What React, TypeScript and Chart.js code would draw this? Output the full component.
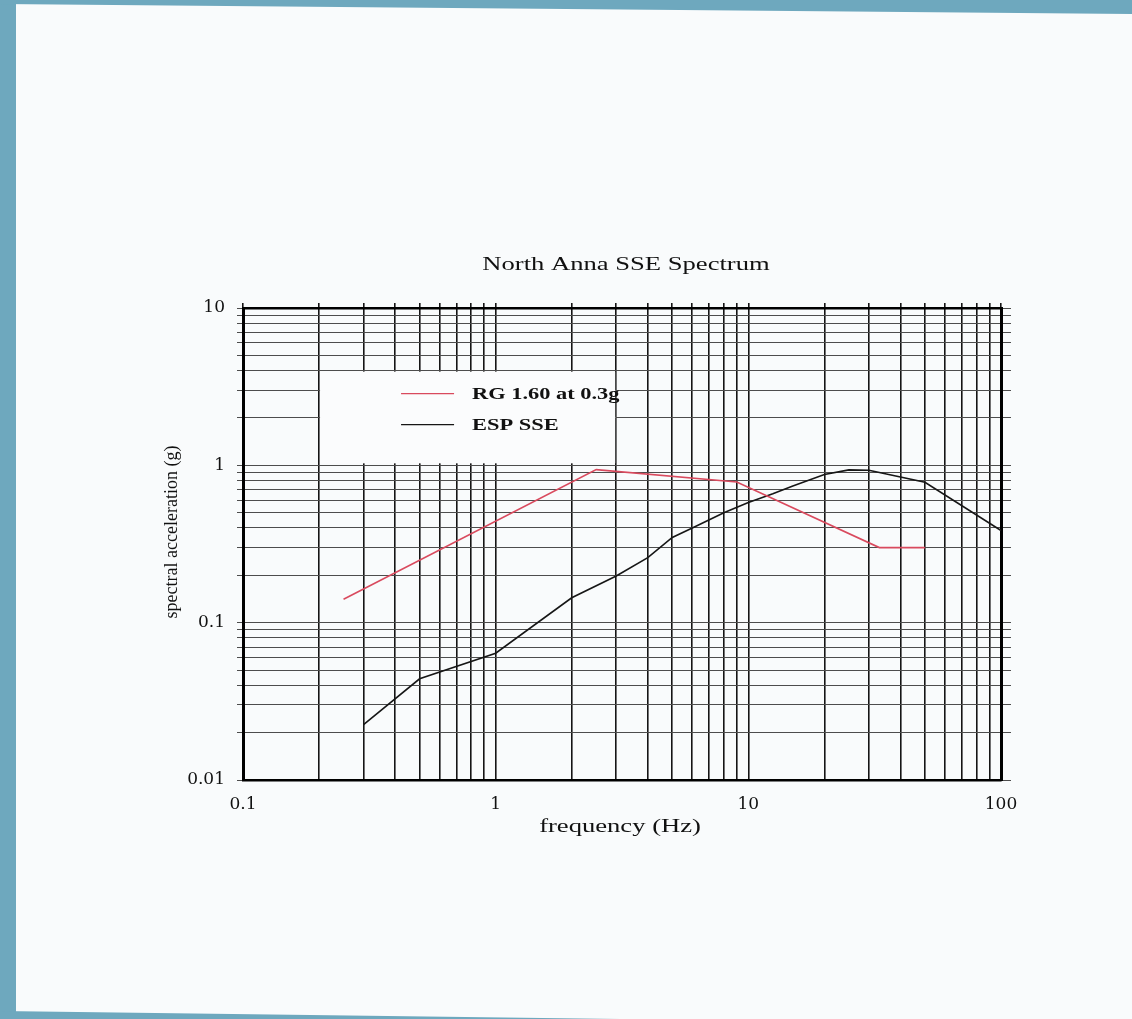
import React, { useEffect, useRef } from 'react';
import { Chart, registerables } from 'chart.js';

Chart.register(...registerables);

// ---------- data ----------
const TITLE = 'North Anna SSE Spectrum';
const X_TITLE = 'frequency (Hz)';
const Y_TITLE = 'spectral acceleration (g)';

const X_DECADES = [0.1, 1, 10, 100];
const X_TICK_LABELS = ['0.1', '1', '10', '100'];
const Y_DECADES = [0.01, 0.1, 1, 10];
const Y_TICK_LABELS = ['0.01', '0.1', '1', '10'];

const SERIES_NAMES = ['RG 1.60 at 0.3g', 'ESP SSE'];

// RG 1.60 spectrum anchored at 0.3 g
const RG_FREQ = [0.25, 2.5, 9, 33, 50];
const RG_ACCEL = [0.141, 0.939, 0.783, 0.3, 0.3];

// ESP SSE spectrum
const ESP_FREQ = [0.3, 0.5, 1, 2, 3, 4, 5, 6, 8, 10, 12.5, 15, 20, 25, 30, 50, 100];
const ESP_ACCEL = [0.0225, 0.044, 0.064, 0.144, 0.198, 0.259, 0.348, 0.4, 0.5, 0.58, 0.66, 0.74, 0.875, 0.935, 0.93, 0.78, 0.385];

// ---------- helpers ----------
function logGrid(decades: number[]): number[] {
  const out: number[] = [];
  for (let i = 0; i < decades.length - 1; i++) {
    for (let k = 1; k < 10; k++) out.push(Number((decades[i] * k).toPrecision(4)));
  }
  out.push(decades[decades.length - 1]);
  return out;
}

const labelFor = (decades: number[], labels: string[]) => (value: any) => {
  const v = Number(value);
  const i = decades.findIndex((d) => Math.abs(v - d) < d * 1e-6);
  return i >= 0 ? labels[i] : '';
};

const SERIF = '"Liberation Serif", "Times New Roman", serif';
const TICK_SERIF = '"DejaVu Serif", "Liberation Serif", serif';
const STRETCH = 1.4;

function drawStretched(
  ctx: CanvasRenderingContext2D,
  text: string,
  x: number,
  y: number,
  font: string,
  align: CanvasTextAlign,
  sx: number
) {
  ctx.save();
  ctx.font = font;
  ctx.textAlign = align;
  ctx.textBaseline = 'alphabetic';
  ctx.fillStyle = '#111';
  ctx.translate(x, y);
  ctx.scale(sx, 1);
  ctx.fillText(text, 0, 0);
  ctx.restore();
}

const decorPlugin = {
  id: 'decor',
  beforeDraw(chart: any) {
    const { ctx, width, height } = chart;
    ctx.save();
    ctx.fillStyle = '#f9fbfc';
    ctx.fillRect(0, 0, width, height);
    ctx.fillStyle = '#6ea8be';
    // left strip
    ctx.fillRect(0, 0, 16, height);
    // top strip (slightly skewed scan)
    ctx.beginPath();
    ctx.moveTo(0, 0);
    ctx.lineTo(width, 0);
    ctx.lineTo(width, 14);
    ctx.lineTo(0, 4);
    ctx.closePath();
    ctx.fill();
    // bottom strip
    ctx.beginPath();
    ctx.moveTo(0, height - 8);
    ctx.lineTo(620, height);
    ctx.lineTo(0, height);
    ctx.closePath();
    ctx.fill();
    ctx.restore();
  },
  beforeDatasetsDraw(chart: any) {
    const { ctx } = chart;
    const xs = chart.scales.x;
    const ys = chart.scales.y;
    const left = xs.getPixelForValue(0.2);
    const right = xs.getPixelForValue(3);
    const top = ys.getPixelForValue(4);
    const bottom = ys.getPixelForValue(1) - 2;
    ctx.save();
    ctx.fillStyle = '#fbfcfd';
    ctx.fillRect(left + 1, top + 1, right - left - 2, bottom - top - 1);
    // legend entries
    chart.data.datasets.forEach((ds: any, i: number) => {
      const y = top + 23 + i * 31;
      ctx.strokeStyle = ds.borderColor;
      ctx.lineWidth = 1.2;
      ctx.beginPath();
      ctx.moveTo(left + 82, y);
      ctx.lineTo(left + 135, y);
      ctx.stroke();
      drawStretched(ctx, ds.label, left + 153, y + 5, `bold 16px ${SERIF}`, 'left', STRETCH);
    });
    ctx.restore();
  },
  afterDraw(chart: any) {
    const { ctx } = chart;
    drawStretched(ctx, TITLE, 626, 270, `19px ${SERIF}`, 'center', STRETCH);
    drawStretched(ctx, X_TITLE, 620, 832, `19px ${SERIF}`, 'center', STRETCH);
    ctx.save();
    ctx.translate(177, 532);
    ctx.rotate(-Math.PI / 2);
    ctx.font = `18px ${SERIF}`;
    ctx.textAlign = 'center';
    ctx.textBaseline = 'alphabetic';
    ctx.fillStyle = '#111';
    ctx.fillText(Y_TITLE, 0, 0);
    ctx.restore();
  },
};

export default function App() {
  const ref = useRef<HTMLCanvasElement>(null);

  useEffect(() => {
    document.body.style.margin = '0';
    const canvas = ref.current;
    if (!canvas) return;

    const xGrid = logGrid(X_DECADES);
    const yGrid = logGrid(Y_DECADES);
    const setTicks = (vals: number[]) => (scale: any) => {
      scale.ticks = vals.map((v) => ({ value: v }));
    };

    const tickFont = { family: TICK_SERIF, size: 17 };

    const chart = new Chart(canvas, {
      type: 'line',
      data: {
        datasets: [
          {
            label: SERIES_NAMES[0],
            data: RG_FREQ.map((f, i) => ({ x: f, y: RG_ACCEL[i] })),
            borderColor: '#d94a5e',
            borderWidth: 1.6,
            pointRadius: 0,
            tension: 0,
            fill: false,
          },
          {
            label: SERIES_NAMES[1],
            data: ESP_FREQ.map((f, i) => ({ x: f, y: ESP_ACCEL[i] })),
            borderColor: '#161616',
            borderWidth: 1.6,
            pointRadius: 0,
            tension: 0,
            fill: false,
          },
        ],
      },
      options: {
        responsive: false,
        animation: false,
        devicePixelRatio: 1,
        layout: { padding: { left: 0, top: 308, right: 131, bottom: 179 } },
        plugins: {
          legend: { display: false },
          title: { display: false },
          tooltip: { enabled: false },
        },
        scales: {
          x: {
            type: 'logarithmic',
            position: 'bottom',
            min: 0.1,
            max: 100,
            afterBuildTicks: setTicks(xGrid),
            afterFit: (s: any) => {
              s.height = 60;
            },
            ticks: {
              autoSkip: false,
              maxRotation: 0,
              minRotation: 0,
              padding: 14,
              color: '#111',
              font: tickFont,
              callback: labelFor(X_DECADES, X_TICK_LABELS),
            },
            grid: { color: '#151515', lineWidth: 1.6, drawTicks: false, tickLength: 0 },
            border: { display: true, color: '#000', width: 2.5 },
          },
          x2: {
            type: 'logarithmic',
            position: 'top',
            min: 0.1,
            max: 100,
            afterBuildTicks: setTicks(xGrid),
            afterFit: (s: any) => {
              s.height = 0;
            },
            ticks: { display: false },
            grid: { drawOnChartArea: false, color: '#151515', lineWidth: 1.6, tickLength: 5 },
            border: { display: true, color: '#000', width: 2.5 },
          },
          y: {
            type: 'logarithmic',
            position: 'left',
            min: 0.01,
            max: 10,
            afterBuildTicks: setTicks(yGrid),
            afterFit: (s: any) => {
              s.width = 243;
            },
            ticks: {
              autoSkip: false,
              padding: 12,
              color: '#111',
              font: tickFont,
              callback: labelFor(Y_DECADES, Y_TICK_LABELS),
            },
            grid: { color: '#4d4d4d', lineWidth: 1, tickLength: 6 },
            border: { display: true, color: '#000', width: 3 },
          },
          y2: {
            type: 'logarithmic',
            position: 'right',
            min: 0.01,
            max: 10,
            afterBuildTicks: setTicks(yGrid),
            afterFit: (s: any) => {
              s.width = 0;
            },
            ticks: { display: false },
            grid: { drawOnChartArea: false, color: '#4d4d4d', lineWidth: 1, tickLength: 10 },
            border: { display: true, color: '#000', width: 3 },
          },
        },
      },
      plugins: [decorPlugin],
    } as any);

    return () => chart.destroy();
  }, []);

  return (
    <div style={{ width: 1132, height: 1019, overflow: 'hidden' }}>
      <canvas ref={ref} width={1132} height={1019} style={{ display: 'block', width: 1132, height: 1019 }} />
    </div>
  );
}
